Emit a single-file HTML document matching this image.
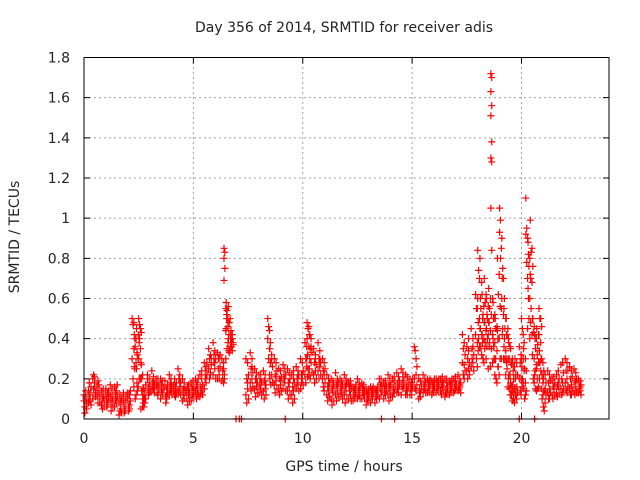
<!DOCTYPE html>
<html><head><meta charset="utf-8"><style>
html,body{margin:0;padding:0;background:#fff}
svg{display:block;font-family:"DejaVu Sans","Liberation Sans",sans-serif}
</style></head><body>
<svg id="chart" width="640" height="480" viewBox="0 0 640 480" xmlns="http://www.w3.org/2000/svg">
<rect width="640" height="480" fill="#fff"/>
<text x="344" y="32" font-size="14" text-anchor="middle" fill="#222">Day 356 of 2014, SRMTID for receiver adis</text>
<text x="344" y="471" font-size="14" text-anchor="middle" fill="#222">GPS time / hours</text>
<text transform="translate(19,237) rotate(-90)" font-size="14" text-anchor="middle" fill="#222">SRMTID / TECUs</text>
<g id="grid"></g><g id="ticks"></g><g id="marks"></g>
<rect x="84" y="57.5" width="525" height="361.5" fill="none" stroke="#000" stroke-width="1"/>
</svg>
<script>
const xTicks=[0,5,10,15,20];
const yTicks=[0,0.2,0.4,0.6,0.8,1,1.2,1.4,1.6,1.8];
const yTickLabels=["0","0.2","0.4","0.6","0.8","1","1.2","1.4","1.6","1.8"];
const times=[0.0,0.2,0.4,0.6,0.8,1.0,1.2,1.4,1.6,1.8,2.0,2.2,2.3,2.4,2.5,2.6,2.7,2.9,3.1,3.3,3.5,3.7,3.9,4.1,4.3,4.5,4.7,4.9,5.1,5.3,5.5,5.7,5.9,6.1,6.3,6.4,6.5,6.6,6.7,7.4,7.6,7.8,8.0,8.2,8.4,8.5,8.7,8.9,9.1,9.3,9.5,9.7,9.9,10.1,10.2,10.3,10.5,10.7,10.9,11.1,11.3,11.5,11.7,11.9,12.1,12.3,12.5,12.7,12.9,13.1,13.3,13.5,13.7,13.9,14.1,14.3,14.5,14.7,14.9,15.1,15.3,15.5,15.7,15.9,16.1,16.3,16.5,16.7,16.9,17.1,17.3,17.5,17.7,17.9,18.0,18.1,18.2,18.3,18.4,18.5,18.6,18.7,18.8,18.9,19.0,19.1,19.2,19.3,19.4,19.5,19.6,19.7,19.9,20.0,20.1,20.2,20.3,20.4,20.5,20.6,20.7,20.8,20.9,21.0,21.2,21.4,21.6,21.8,22.0,22.2,22.4,22.6];
const values=[
[0.12,0.06,0.09,0.03],[0.14,0.1,0.08,0.18],[0.2,0.15,0.1,0.22],[0.12,0.08,0.16,0.19],[0.14,0.1,0.07,0.05],[0.15,0.09,0.12,0.06],[0.11,0.07,0.17,0.04],[0.16,0.1,0.06,0.13],[0.08,0.04,0.02,0.12],[0.09,0.05,0.13,0.03],[0.1,0.06,0.13,0.04],[0.5,0.47,0.3,0.2],[0.42,0.36,0.26,0.1],[0.45,0.32,0.25,0.14],[0.5,0.4,0.3,0.47],[0.28,0.2,0.05,0.14],[0.12,0.06,0.15,0.1],[0.2,0.15,0.22,0.12],[0.24,0.18,0.14,0.16],[0.17,0.13,0.2,0.15],[0.2,0.14,0.1,0.17],[0.16,0.11,0.19,0.08],[0.22,0.15,0.12,0.18],[0.17,0.12,0.14,0.2],[0.25,0.2,0.14,0.13],[0.2,0.15,0.09,0.12],[0.1,0.07,0.14,0.16],[0.18,0.12,0.09,0.15],[0.14,0.1,0.2,0.17],[0.22,0.16,0.11,0.13],[0.28,0.2,0.15,0.24],[0.35,0.3,0.25,0.2],[0.38,0.28,0.22,0.32],[0.33,0.25,0.2,0.3],[0.3,0.24,0.19,0.22],[0.85,0.83,0.8,0.75,0.69],[0.58,0.54,0.45,0.35],[0.56,0.48,0.4,0.33],[0.42,0.38,0.4,0.36],[0.3,0.2,0.12,0.08],[0.33,0.25,0.18,0.14],[0.25,0.2,0.15,0.11],[0.22,0.17,0.13,0.18],[0.24,0.19,0.14,0.1],[0.5,0.46,0.4,0.3],[0.35,0.28,0.2,0.17],[0.3,0.22,0.17,0.13],[0.25,0.2,0.15,0.12],[0.27,0.2,0.15,0.22],[0.25,0.18,0.14,0.1],[0.22,0.16,0.12,0.08],[0.26,0.2,0.15,0.18],[0.3,0.22,0.15,0.18],[0.38,0.3,0.22,0.18],[0.48,0.45,0.4,0.25],[0.42,0.35,0.25,0.2],[0.35,0.28,0.22,0.18],[0.38,0.3,0.24,0.2],[0.3,0.24,0.2,0.16],[0.22,0.16,0.12,0.09],[0.2,0.15,0.1,0.07],[0.23,0.17,0.12,0.09],[0.2,0.16,0.11,0.14],[0.22,0.16,0.12,0.08],[0.18,0.14,0.1,0.16],[0.16,0.12,0.09,0.14],[0.2,0.14,0.1,0.12],[0.18,0.13,0.1,0.15],[0.14,0.1,0.07,0.12],[0.16,0.12,0.08,0.14],[0.15,0.11,0.08,0.13],[0.2,0.15,0.1,0.17],[0.18,0.13,0.1,0.15],[0.22,0.16,0.12,0.09],[0.2,0.15,0.11,0.13],[0.23,0.18,0.13,0.15],[0.25,0.18,0.12,0.16],[0.22,0.16,0.12,0.14],[0.2,0.15,0.12,0.17],[0.36,0.34,0.2,0.15],[0.2,0.15,0.1,0.13],[0.22,0.17,0.13,0.15],[0.2,0.16,0.13,0.18],[0.19,0.15,0.12,0.17],[0.2,0.16,0.13,0.18],[0.2,0.17,0.14,0.12],[0.2,0.15,0.11,0.13],[0.19,0.15,0.12,0.17],[0.2,0.16,0.13,0.14],[0.22,0.17,0.14,0.15],[0.42,0.35,0.28,0.22],[0.36,0.3,0.24,0.2],[0.45,0.35,0.26,0.3],[0.62,0.55,0.42,0.3],[0.84,0.74,0.6,0.4],[0.8,0.55,0.45,0.36],[0.62,0.52,0.42,0.3],[0.7,0.58,0.48,0.38],[0.6,0.5,0.45,0.4],[0.65,0.55,0.48,0.38],[1.72,1.7,1.63,1.56,1.51,1.38,1.3,1.28,1.05,0.84],[0.58,0.5,0.4,0.3],[0.5,0.45,0.3,0.2],[0.8,0.62,0.44,0.26],[1.05,0.99,0.93,0.8],[0.9,0.75,0.6,0.45],[0.55,0.45,0.36,0.3],[0.5,0.42,0.3,0.25],[0.4,0.3,0.2,0.15],[0.35,0.27,0.18,0.12],[0.28,0.2,0.14,0.1],[0.3,0.22,0.15,0.12],[0.36,0.28,0.2,0.14],[0.5,0.45,0.3,0.2],[0.35,0.25,0.15,0.1],[1.1,0.95,0.92,0.78],[0.88,0.76,0.65,0.5],[0.99,0.83,0.72,0.55],[0.5,0.43,0.32,0.2],[0.42,0.35,0.22,0.15],[0.45,0.37,0.27,0.15],[0.55,0.5,0.42,0.28],[0.3,0.22,0.15,0.1],[0.2,0.14,0.06,0.04],[0.24,0.18,0.13,0.1],[0.2,0.16,0.12,0.1],[0.22,0.17,0.13,0.11],[0.27,0.2,0.15,0.12],[0.3,0.24,0.18,0.14],[0.26,0.2,0.15,0.12],[0.25,0.19,0.14,0.12],[0.2,0.16,0.13,0.15]];
const valuesB=[
[0.1,0.08,0.14,0.05,0.11],[0.12,0.16,0.09,0.07,0.13],[0.18,0.13,0.21,0.11,0.16],[0.14,0.1,0.13,0.08,0.17],[0.12,0.09,0.15,0.06,0.11],[0.13,0.1,0.08,0.14,0.07],[0.12,0.09,0.15,0.06,0.1],[0.14,0.11,0.08,0.17,0.09],[0.07,0.1,0.05,0.03,0.09],[0.08,0.11,0.06,0.12,0.04],[0.12,0.09,0.07,0.14,0.05],[0.48,0.4,0.35,0.25,0.16],[0.4,0.33,0.28,0.18,0.12],[0.42,0.38,0.3,0.2,0.16],[0.45,0.43,0.35,0.27,0.2],[0.22,0.15,0.1,0.08,0.06],[0.14,0.1,0.08,0.17,0.12],[0.18,0.14,0.2,0.16,0.13],[0.21,0.17,0.15,0.13,0.19],[0.18,0.15,0.12,0.16,0.2],[0.19,0.16,0.13,0.15,0.12],[0.15,0.13,0.1,0.17,0.12],[0.2,0.16,0.14,0.12,0.18],[0.16,0.13,0.15,0.18,0.11],[0.22,0.18,0.16,0.12,0.2],[0.18,0.14,0.1,0.13,0.16],[0.12,0.09,0.15,0.13,0.17],[0.16,0.13,0.11,0.14,0.19],[0.15,0.12,0.18,0.2,0.13],[0.2,0.17,0.14,0.12,0.24],[0.26,0.22,0.18,0.28,0.2],[0.32,0.27,0.23,0.3,0.22],[0.34,0.3,0.25,0.2,0.28],[0.3,0.26,0.22,0.32,0.2],[0.28,0.22,0.18,0.2,0.25],[0.55,0.52,0.44,0.5,0.3],[0.5,0.42,0.38,0.34,0.46],[0.5,0.44,0.36,0.4,0.34],[0.4,0.37,0.34,0.38,0.42],[0.28,0.22,0.15,0.1,0.18],[0.3,0.23,0.2,0.16,0.26],[0.23,0.18,0.16,0.13,0.2],[0.2,0.18,0.15,0.12,0.22],[0.22,0.17,0.15,0.12,0.19],[0.44,0.38,0.35,0.28,0.22],[0.32,0.26,0.22,0.18,0.3],[0.28,0.24,0.19,0.15,0.21],[0.24,0.21,0.17,0.14,0.19],[0.25,0.22,0.18,0.14,0.2],[0.23,0.2,0.16,0.12,0.18],[0.2,0.18,0.14,0.1,0.24],[0.24,0.22,0.17,0.14,0.2],[0.28,0.24,0.2,0.17,0.22],[0.36,0.32,0.26,0.21,0.3],[0.46,0.42,0.36,0.3,0.22],[0.4,0.33,0.28,0.23,0.36],[0.32,0.27,0.24,0.2,0.3],[0.34,0.28,0.26,0.22,0.3],[0.28,0.25,0.22,0.18,0.14],[0.2,0.18,0.14,0.11,0.16],[0.19,0.17,0.13,0.09,0.15],[0.2,0.18,0.14,0.11,0.16],[0.19,0.17,0.13,0.1,0.15],[0.2,0.18,0.14,0.1,0.16],[0.17,0.15,0.12,0.09,0.19],[0.15,0.13,0.11,0.17,0.1],[0.18,0.16,0.12,0.1,0.14],[0.17,0.14,0.12,0.1,0.16],[0.13,0.11,0.09,0.15,0.1],[0.15,0.13,0.1,0.16,0.12],[0.14,0.12,0.1,0.16,0.11],[0.18,0.16,0.12,0.14,0.2],[0.17,0.14,0.12,0.16,0.19],[0.2,0.17,0.14,0.11,0.18],[0.19,0.16,0.13,0.15,0.21],[0.21,0.19,0.15,0.17,0.13],[0.23,0.19,0.15,0.17,0.21],[0.21,0.18,0.14,0.16,0.12],[0.18,0.16,0.14,0.2,0.12],[0.3,0.26,0.22,0.17,0.14],[0.19,0.17,0.13,0.15,0.11],[0.2,0.18,0.15,0.13,0.16],[0.19,0.17,0.15,0.2,0.14],[0.18,0.16,0.14,0.2,0.13],[0.19,0.17,0.15,0.2,0.14],[0.19,0.18,0.16,0.14,0.21],[0.18,0.16,0.13,0.15,0.2],[0.18,0.16,0.14,0.2,0.13],[0.19,0.17,0.15,0.16,0.21],[0.2,0.18,0.16,0.13,0.17],[0.38,0.32,0.27,0.24,0.2],[0.34,0.28,0.25,0.22,0.4],[0.4,0.32,0.28,0.24,0.36],[0.55,0.48,0.38,0.34,0.26],[0.7,0.6,0.5,0.45,0.36],[0.68,0.5,0.42,0.38,0.32],[0.56,0.48,0.4,0.35,0.28],[0.62,0.52,0.44,0.36,0.3],[0.56,0.48,0.42,0.36,0.25],[0.6,0.52,0.44,0.35,0.26],[0.6,0.5,0.42,0.36,0.28],[0.52,0.45,0.38,0.3,0.22],[0.46,0.4,0.34,0.26,0.18],[0.72,0.56,0.4,0.3,0.22],[0.85,0.7,0.55,0.42,0.3],[0.7,0.6,0.52,0.4,0.3],[0.5,0.42,0.34,0.28,0.22],[0.45,0.38,0.3,0.22,0.16],[0.36,0.28,0.22,0.16,0.12],[0.3,0.24,0.17,0.13,0.09],[0.26,0.2,0.15,0.12,0.08],[0.28,0.22,0.16,0.13,0.1],[0.32,0.26,0.2,0.16,0.12],[0.42,0.38,0.3,0.24,0.18],[0.3,0.24,0.18,0.14,0.12],[0.9,0.82,0.7,0.6,0.45],[0.8,0.7,0.6,0.48,0.4],[0.85,0.76,0.68,0.5,0.42],[0.46,0.4,0.3,0.24,0.18],[0.4,0.32,0.25,0.2,0.14],[0.42,0.34,0.28,0.2,0.16],[0.5,0.46,0.38,0.3,0.24],[0.28,0.24,0.18,0.14,0.12],[0.22,0.18,0.15,0.12,0.08],[0.22,0.19,0.15,0.13,0.1],[0.21,0.18,0.15,0.12,0.16],[0.24,0.2,0.16,0.13,0.18],[0.28,0.23,0.18,0.15,0.13],[0.28,0.24,0.2,0.16,0.13],[0.24,0.21,0.17,0.14,0.12],[0.23,0.2,0.16,0.13,0.18],[0.19,0.17,0.14,0.12,0.16]];
const zeroTimes=[6.95,7.1,7.2,9.2,13.6,14.2,19.9,20.6];
const X0=84,X1=609,Y0=419,Y1=57.5,XMAX=24,YMAX=1.8;
const sx=v=>X0+(v/XMAX)*(X1-X0);
const sy=v=>Y0-(v/YMAX)*(Y0-Y1);
const NS="http://www.w3.org/2000/svg";
const grid=document.getElementById('grid'),ticks=document.getElementById('ticks'),marks=document.getElementById('marks');
function mk(tag,attrs,parent){const e=document.createElementNS(NS,tag);for(const k in attrs)e.setAttribute(k,attrs[k]);parent.appendChild(e);return e;}
yTicks.forEach((t,i)=>{const y=sy(t);
 if(t>0&&t<YMAX){const g=mk('line',{x1:X0,x2:X1,y1:y,y2:y,stroke:'#a0a0a0','stroke-dasharray':'2,3'},grid);
 
 }
 const tk=mk('path',{d:`M${X0} ${y}h6M${X1} ${y}h-6`,stroke:'#000'},ticks);
 
 
 const tx=mk('text',{x:70,y:y+5,'font-size':14,'text-anchor':'end',fill:'#222'},ticks);tx.textContent=yTickLabels[i];
 
 
});
xTicks.forEach(t=>{const x=sx(t);
 if(t>0){const g=mk('line',{x1:x,x2:x,y1:Y0,y2:Y1,stroke:'#a0a0a0','stroke-dasharray':'2,3'},grid);
 
 }
 const tk=mk('path',{d:`M${x} ${Y0}v-6M${x} ${Y1}v6`,stroke:'#000'},ticks);
 
 
 const tx=mk('text',{x:x,y:443,'font-size':14,'text-anchor':'middle',fill:'#222'},ticks);tx.textContent=String(t);
 
 
});
let d='';
const plus=(x,y)=>{d+=`M${x-3.5} ${y}h7M${x} ${y-3.5}v7`;};
times.forEach((t,i)=>{values[i].forEach((v,j)=>plus(sx(t+(j%2?0.04:0)),sy(v)));});
times.forEach((t,i)=>{valuesB[i].forEach((v,j)=>plus(sx(t+0.08+(j%2?0.04:0)),sy(v)));});
zeroTimes.forEach(t=>plus(sx(t),sy(0)));
const p=mk('path',{d:d,stroke:'#ff0000','stroke-width':1.2,fill:'none'},marks);


</script>
</body></html>
